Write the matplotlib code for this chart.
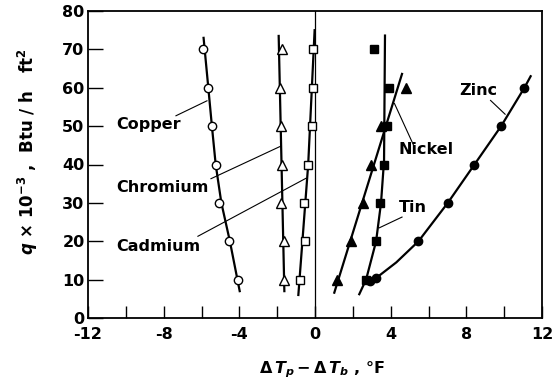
import matplotlib
matplotlib.use("Agg")
from matplotlib import pyplot as plt
import numpy as np

plt.rcParams['font.family'] = ['DejaVu Sans']
plt.rcParams['font.weight'] = 'bold'
plt.rcParams['mathtext.fontset'] = 'custom'
plt.rcParams['mathtext.it'] = 'DejaVu Sans:italic:bold'
plt.rcParams['mathtext.rm'] = 'DejaVu Sans:bold'
plt.rcParams['mathtext.default'] = 'it'
plt.rcParams['axes.unicode_minus'] = False

# measured points: heat flux q (x1e-3 Btu/h ft2) vs dT_p - dT_b (F)
q = [70, 60, 50, 40, 30, 20, 10]

copper_dt = [-5.9, -5.65, -5.45, -5.25, -5.1, -4.55, -4.07]
chromium_dt = [-1.72, -1.85, -1.8, -1.72, -1.78, -1.64, -1.64]
cadmium_dt = [-0.08, -0.09, -0.17, -0.35, -0.6, -0.55, -0.81]

nickel_q = [60, 50, 40, 30, 20, 10]
nickel_dt = [4.81, 3.49, 2.96, 2.52, 1.9, 1.15]
tin_dt = [3.1, 3.93, 3.81, 3.63, 3.46, 3.23, 2.7]
zinc_q = [60, 50, 40, 30, 20, 10.3, 9.6]
zinc_dt = [11.07, 9.84, 8.43, 7.02, 5.47, 3.2, 2.9]

# faired curves through each set
copper_curve_q = [73, 60, 50, 40, 30, 20, 10, 7]
copper_curve_dt = [-5.89, -5.64, -5.45, -5.25, -4.95, -4.5, -4.1, -3.98]
chromium_curve_q = [73.5, 7]
chromium_curve_dt = [-1.92, -1.62]
cadmium_curve_q = [75, 40, 6]
cadmium_curve_dt = [-0.02, -0.36, -0.88]
nickel_curve_q = [63.6, 6.6]
nickel_curve_dt = [4.6, 1.02]
tin_curve_q = [73.6, 41, 30, 20, 10, 6.2]
tin_curve_dt = [3.7, 3.65, 3.49, 3.23, 2.7, 2.34]
zinc_curve_q = [9.2, 10.3, 14.5, 20, 30, 40, 50, 60, 63]
zinc_curve_dt = [2.7, 3.2, 4.3, 5.47, 7.02, 8.43, 9.84, 11.07, 11.4]

# curve labels and their leader lines
labels = ['Copper', 'Chromium', 'Cadmium', 'Nickel', 'Tin', 'Zinc']
label_x = [-10.5, -10.5, -10.5, 4.44, 4.44, 7.62]
label_y = [50.3, 33.9, 18.7, 43.8, 28.8, 59.3]
leader_x = [(-7.35, -5.71), (-5.5, -1.8), (-6.19, -0.48), (5.25, 4.2), (4.6, 3.4), (9.28, 10.05)]
leader_y = [(52.7, 56.6), (36.3, 44.8), (21.3, 36.4), (44.6, 55.9), (26.3, 23.5), (56.7, 53.1)]

fig = plt.figure(figsize=(5.57, 3.88), dpi=100)
ax = fig.add_axes([88/557, 1-318/388, (542-88)/557, (318-11)/388])

lw = 1.6
ax.axvline(0, color='k', lw=0.9)
ax.plot(copper_curve_dt, copper_curve_q, 'k-', lw=lw)
ax.plot(chromium_curve_dt, chromium_curve_q, 'k-', lw=lw)
ax.plot(cadmium_curve_dt, cadmium_curve_q, 'k-', lw=lw)
ax.plot(nickel_curve_dt, nickel_curve_q, 'k-', lw=lw)
ax.plot(tin_curve_dt, tin_curve_q, 'k-', lw=lw)
ax.plot(zinc_curve_dt, zinc_curve_q, 'k-', lw=lw)

op = dict(linestyle='none', mfc='white', mec='k', mew=1.0, zorder=3)
ax.plot(copper_dt, q, marker='o', ms=6, **op)
ax.plot(chromium_dt, q, marker='^', ms=6.5, **op)
ax.plot(cadmium_dt, q, marker='s', ms=5.5, **op)
cl = dict(linestyle='none', color='k', zorder=3)
ax.plot(nickel_dt, nickel_q, marker='^', ms=6.5, **cl)
ax.plot(tin_dt, q, marker='s', ms=5.5, **cl)
ax.plot(zinc_dt, zinc_q, marker='o', ms=6, **cl)

for name, tx, ty, lx, ly in zip(labels, label_x, label_y, leader_x, leader_y):
    ax.plot(lx, ly, 'k-', lw=0.8)
    ax.text(tx, ty, name, ha='left', va='center', fontsize=11.5)

ax.set_xlim(-12, 12)
ax.set_ylim(0, 80)
xt = np.arange(-12, 13, 2)
ax.set_xticks(xt)
ax.set_xticklabels([str(v) if v % 4 == 0 else '' for v in xt])
ax.set_yticks(np.arange(0, 81, 10))
ax.tick_params(direction='in', labelsize=11.5, width=1.0)
ax.tick_params(axis='x', length=9, pad=6.5)
ax.tick_params(axis='y', length=11, pad=2.5)
for s in ax.spines.values():
    s.set_linewidth(1.3)

fig.text(28/557, 1-152/388,
         r'$q$ × 10$^{\mathrm{-3}}$ ,  Btu / h   ft$^{\mathrm{2}}$', rotation=90,
         ha='center', va='center', fontsize=12)
fig.text(322/557, 1-370/388, r'$\Delta\,T_p - \Delta\,T_b$ , °F',
         ha='center', va='center', fontsize=11.5)

fig.savefig('out.png', dpi=100)
